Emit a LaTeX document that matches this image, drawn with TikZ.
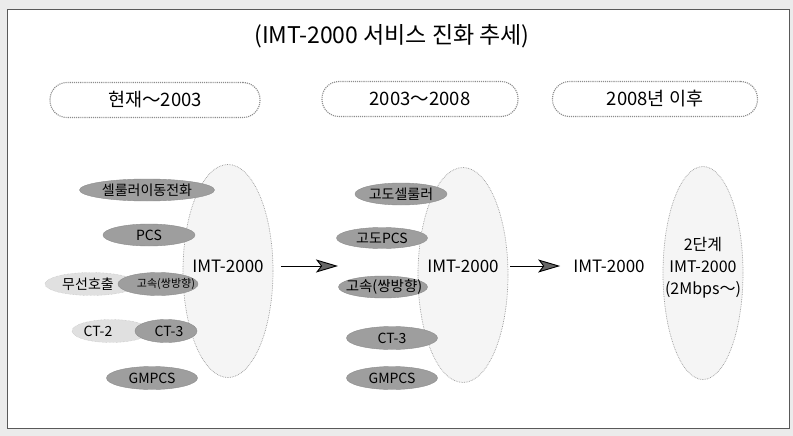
\documentclass[tikz,border=0pt]{standalone}
\usepackage{fontspec}
\setmainfont{Noto Sans CJK KR}
\usetikzlibrary{arrows.meta,shapes.geometric}
\begin{document}
\begin{tikzpicture}[x=1pt,y=-1pt,
  every node/.style={text=black},
  dark/.style={ellipse, fill=black!38, draw=black!45, line width=0.4pt, inner sep=0pt},
  light/.style={ellipse, fill=black!12, draw=black!28, line width=0.4pt, densely dotted, inner sep=0pt},
  big/.style={ellipse, fill=black!4, draw=black!40, densely dotted, line width=0.7pt, inner sep=0pt},
  period/.style={rectangle, rounded corners=17pt, draw=black!45, line width=1.1pt, densely dotted, fill=white, minimum height=35pt, inner sep=0pt, font=\fontsize{18.5}{20}\selectfont},
  lbl/.style={inner sep=0pt, font=\fontsize{14}{16}\selectfont},
  imt/.style={inner sep=0pt, font=\fontsize{17}{20}\selectfont},
  arr/.style={line width=0.9pt, -{Stealth[length=22pt,width=13pt,inset=5pt,fill=black!60]}},
]
\path[use as bounding box, fill=black!8] (0,0) rectangle (793,436);
\draw[black!65, line width=0.6pt, fill=white] (7,9) rectangle (789,428);

\node[inner sep=0pt, font=\fontsize{23}{26}\selectfont] (title) at (392,36) {(IMT-2000 서비스 진화 추세)};

\node[period, minimum width=210pt] (p1) at (155,100) {현재～2003};
\node[period, minimum width=196pt] (p2) at (420,99) {2003～2008};
\node[period, minimum width=205pt] (p3) at (655,99) {2008년 이후};

% left group
\node[big, minimum width=90pt, minimum height=213pt] (bigL) at (228,271) {};
\node[dark, minimum width=135pt, minimum height=22pt] (c1) at (147,190) {};
\node[lbl] (c1t) at (147,190) {셀룰러이동전화};
\node[dark, minimum width=92pt, minimum height=22pt] (c2) at (149,235) {};
\node[lbl] (c2t) at (149,235) {PCS};
\node[light, minimum width=92pt, minimum height=23pt] (c3) at (91,284) {};
\node[lbl] (c3t) at (88,284) {무선호출};
\node[dark, minimum width=80pt, minimum height=23pt] (c4) at (158,284) {};
\node[inner sep=0pt, font=\fontsize{11}{13}\selectfont] (c4t) at (166,284) {고속(쌍방향)};
\node[light, minimum width=78pt, minimum height=23pt] (c5) at (111,331) {};
\node[lbl] (c5t) at (98,331) {CT-2};
\node[dark, minimum width=62pt, minimum height=23pt] (c6) at (166,331) {};
\node[lbl] (c6t) at (169,331) {CT-3};
\node[dark, minimum width=91pt, minimum height=23pt] (c7) at (152,378) {};
\node[lbl] (c7t) at (152,378) {GMPCS};
\node[imt] (imtL) at (228,266) {IMT-2000};

% middle group
\node[big, minimum width=90pt, minimum height=215pt] (bigM) at (463,275) {};
\node[dark, minimum width=92pt, minimum height=22pt] (m1) at (401,194) {};
\node[lbl] (m1t) at (401,194) {고도셀룰러};
\node[dark, minimum width=91pt, minimum height=21pt] (m2) at (382,238) {};
\node[lbl] (m2t) at (382,238) {고도PCS};
\node[dark, minimum width=89pt, minimum height=22pt] (m3) at (383,287) {};
\node[inner sep=0pt, font=\fontsize{14.5}{16}\selectfont] (m3t) at (384,287) {고속(쌍방향)};
\node[dark, minimum width=91pt, minimum height=23pt] (m4) at (392,338) {};
\node[lbl] (m4t) at (392,338) {CT-3};
\node[dark, minimum width=91pt, minimum height=23pt] (m5) at (392,378) {};
\node[lbl] (m5t) at (392,378) {GMPCS};
\node[imt] (imtM) at (463,266) {IMT-2000};

% right group
\node[imt] (imtR) at (609,266) {IMT-2000};
\node[big, minimum width=80pt, minimum height=213pt] (bigR) at (703,273) {};
\node[inner sep=0pt, align=center, font=\fontsize{16}{22}\selectfont] (r2) at (703,268) {2단계\\IMT-2000\\(2Mbps～)};

% arrows
\coordinate (a1e) at (338,266);
\draw[arr] ([xshift=17pt]imtL.east) -- (a1e);
\draw[arr] ([xshift=11pt]imtM.east) -- ([xshift=-13pt]imtR.west);
\end{tikzpicture}
\end{document}
